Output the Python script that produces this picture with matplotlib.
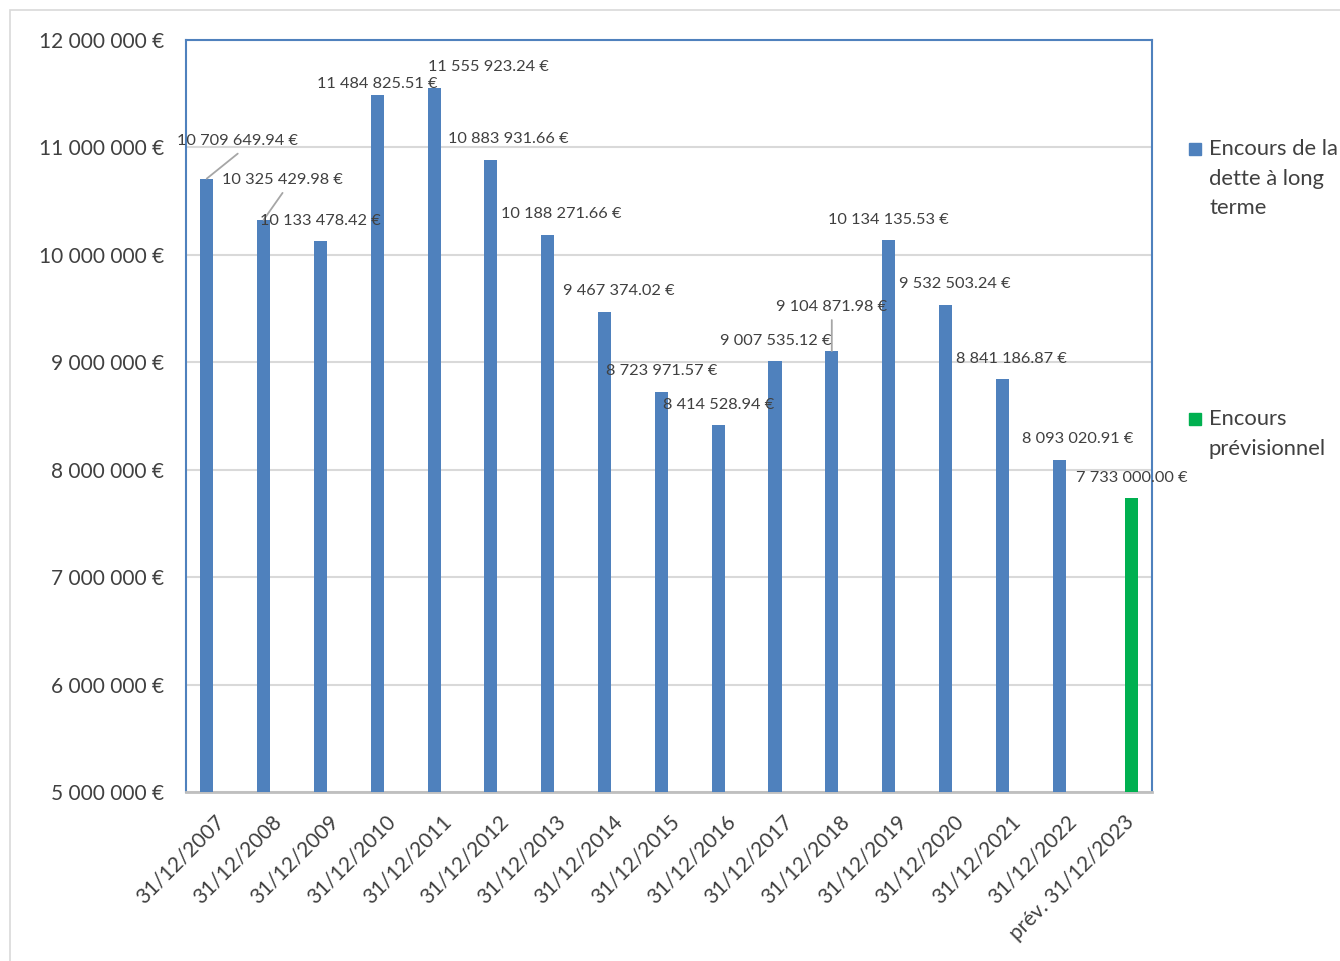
import matplotlib
matplotlib.use("Agg")
import matplotlib.pyplot as plt
from matplotlib.patches import Rectangle
import numpy as np

plt.rcParams['font.family'] = ['Lato', 'DejaVu Sans']

# Categories and values
categories = ["31/12/2007", "31/12/2008", "31/12/2009", "31/12/2010", "31/12/2011",
              "31/12/2012", "31/12/2013", "31/12/2014", "31/12/2015", "31/12/2016",
              "31/12/2017", "31/12/2018", "31/12/2019", "31/12/2020", "31/12/2021",
              "31/12/2022", "prév. 31/12/2023"]
encours_long_terme = [10709649.94, 10325429.98, 10133478.42, 11484825.51, 11555923.24,
                      10883931.66, 10188271.66, 9467374.02, 8723971.57, 8414528.94,
                      9007535.12, 9104871.98, 10134135.53, 9532503.24, 8841186.87,
                      8093020.91, None]
encours_previsionnel = [None] * 16 + [7733000.00]
series_names = ["Encours de la\ndette à long\nterme", "Encours\nprévisionnel"]

BLUE = "#4F81BD"
GREEN = "#00B050"
TEXT = "#404040"

# label offsets (pixels) from top of each bar: (dx, dy), and whether a leader line is drawn
label_offsets = [(31, 38), (19, 40), (0, 20), (0, 11), (54, 21), (17, 21), (14, 21),
                 (14, 21), (0, 21), (0, 20), (1, 20), (0, 44), (0, 20), (9, 21),
                 (9, 20), (19, 21), (1, 20)]
leader = [True, True] + [False] * 9 + [True] + [False] * 5

W, H = 1340, 961
fig = plt.figure(figsize=(W / 100, H / 100), dpi=100)

# light chart-area frame
fig.patches.append(Rectangle((10 / W, -0.1), 1.2, (H - 10) / H + 0.1,
                             transform=fig.transFigure, fill=False,
                             edgecolor="#D9D9D9", linewidth=1.2))

ax = fig.add_axes([186 / W, (H - 792) / H, (1152 - 186) / W, (792 - 40) / H])

x = np.arange(len(categories))
bw = 0.23
off = 0.135

def to_arr(vals):
    return np.array([np.nan if v is None else v for v in vals], dtype=float)

blue_vals = to_arr(encours_long_terme)
green_vals = to_arr(encours_previsionnel)

ymin, ymax = 5_000_000, 12_000_000
mask_b = ~np.isnan(blue_vals)
mask_g = ~np.isnan(green_vals)
ax.bar(x[mask_b] - off, blue_vals[mask_b] - ymin, bw, bottom=ymin, color=BLUE, zorder=3)
ax.bar(x[mask_g] + off, green_vals[mask_g] - ymin, bw, bottom=ymin, color=GREEN, zorder=3)

ax.set_xlim(-0.5, len(categories) - 0.5)
ax.set_ylim(ymin, ymax)

def fmt_eur(v, decimals=2):
    s = f"{v:,.{decimals}f}".replace(",", " ")
    return s + " €"

# data labels, with leader lines where the label was moved away from its bar
for i in range(len(categories)):
    if mask_b[i]:
        v, xb = blue_vals[i], x[i] - off
    else:
        v, xb = green_vals[i], x[i] + off
    dx, dy = label_offsets[i]
    ax.annotate(fmt_eur(v), xy=(xb, v), xytext=(dx, dy), textcoords="offset pixels",
                ha="center", va="center", fontsize=11.8, color=TEXT, zorder=5)
    if leader[i]:
        ax.annotate("", xy=(xb, v), xytext=(dx, dy - 13), textcoords="offset pixels",
                    arrowprops=dict(arrowstyle="-", color="#A6A6A6", lw=1.3,
                                    shrinkA=0, shrinkB=0), zorder=4)

# y axis
yticks = np.arange(ymin, ymax + 1, 1_000_000)
ax.set_yticks(yticks)
ax.set_yticklabels([fmt_eur(t, 0) for t in yticks], fontsize=15, color=TEXT)
ax.yaxis.grid(True, color="#D9D9D9", linewidth=1.5, zorder=0)
ax.set_axisbelow(True)
ax.tick_params(axis="y", length=0, pad=16)

# x axis
ax.set_xticks(x)
ax.set_xticklabels(categories, rotation=45, ha="right", va="top",
                   rotation_mode="anchor", fontsize=15, color=TEXT)
ax.tick_params(axis="x", length=0, pad=14)

for side in ("left", "top", "right"):
    ax.spines[side].set_color(BLUE)
    ax.spines[side].set_linewidth(1.5)
ax.spines["bottom"].set_color("#BFBFBF")
ax.spines["bottom"].set_linewidth(2)

# legend entries
legend_items = [(series_names[0], BLUE, 149), (series_names[1], GREEN, 419)]
for label, col, ymid in legend_items:
    fig.patches.append(Rectangle((1189 / W, 1 - (ymid + 6) / H), 12 / W, 12 / H,
                                 transform=fig.transFigure, color=col))
    fig.text(1209 / W, 1 - (ymid - 10) / H, label, fontsize=15.8, color=TEXT,
             ha="left", va="top", linespacing=1.6)

fig.savefig("out.png", dpi=100)
